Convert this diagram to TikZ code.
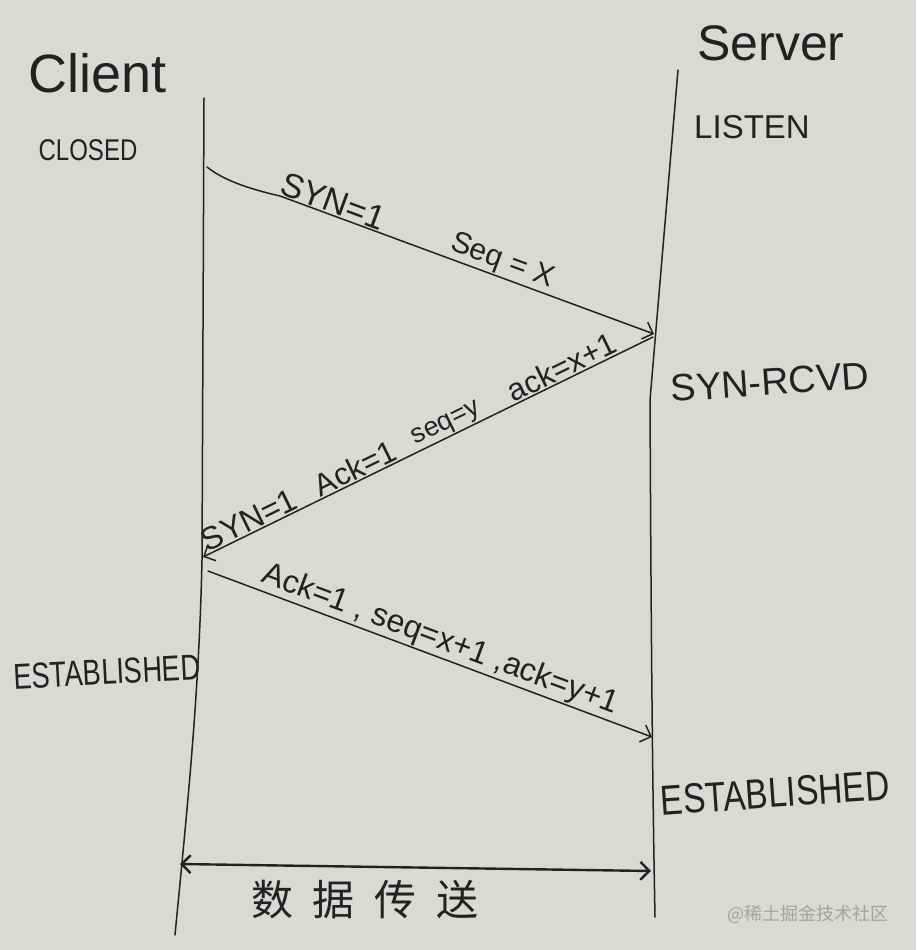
\documentclass[tikz,border=0pt]{standalone}
\usepackage{fontspec}
\setmainfont{Liberation Sans}
\newfontfamily\cjk{Noto Sans CJK SC}
\usetikzlibrary{arrows.meta}
\definecolor{paper}{HTML}{D8DAD6}
\definecolor{ink}{HTML}{222222}
\definecolor{wmark}{HTML}{A2A4A2}
\begin{document}
\begin{tikzpicture}[x=1pt,y=-1pt,
  >={Straight Barb[length=9pt,width=18pt]},
  inkline/.style={draw=ink, line width=1.5pt, line cap=round, line join=round},
  msg/.style={inkline, ->},
  lbl/.style={text=ink, inner sep=1pt},
  fs/.style={font=\fontsize{#1}{#1}\selectfont},
]
\fill[paper] (0,0) rectangle (916,950);
\useasboundingbox (0,0) rectangle (916,950);

% titles and states
\node[lbl, fs=54] (client) at (98,73) {Client};
\node[lbl, fs=50] (server) at (771,43) {Server};
\node[lbl, fs=30] (closed) at (88,150) {\scalebox{0.8}[1]{CLOSED}};
\node[lbl, fs=33] (listen) at (752,127) {LISTEN};
\node[lbl, fs=38, rotate=4] (synrcvd) at (770,382) {SYN-RCVD};
\node[lbl, fs=36, rotate=3] (estl) at (107,672) {\scalebox{0.76}[1]{ESTABLISHED}};
\node[lbl, fs=42, rotate=4] (estr) at (775,793) {\scalebox{0.8}[1]{ESTABLISHED}};

% lifelines
\coordinate (ctop) at (204,98);
\coordinate (cmid) at (202,560);
\coordinate (cbot) at (175,935);
\coordinate (stop) at (678,70);
\coordinate (smid) at (650,400);
\coordinate (sbot) at (655,917);
\draw[inkline] (ctop) -- (cmid) .. controls (199,700) and (186,820) .. (cbot);
\draw[inkline] (stop) -- (smid) .. controls (651,600) and (652,760) .. (sbot);

% message 1
\coordinate (m1s) at (207,167);
\coordinate (m1e) at (654,334);
\draw[msg] (m1s) .. controls (222,179) and (245,188) .. (280,196) -- (m1e)
  node[lbl, fs=34, pos=0.13, sloped, above] {SYN=1}
  node[lbl, fs=30, pos=0.58, sloped, above] {Seq = X};

% message 2
\coordinate (m2s) at (653,337);
\coordinate (m2e) at (203,557);
\draw[msg] (m2s) -- (m2e)
  node[lbl, fs=31, pos=0.19, sloped, above] {ack=x+1}
  node[lbl, fs=27, pos=0.447, sloped, above] {seq=y}
  node[lbl, fs=31, pos=0.649, sloped, above] {Ack=1}
  node[lbl, fs=32, pos=0.885, sloped, above] {SYN=1};

% message 3
\coordinate (m3s) at (208,571);
\coordinate (m3e) at (652,737);
\draw[msg] (m3s) -- (m3e)
  node[lbl, fs=32, pos=0.51, sloped, above] {Ack=1 , seq=x+1 ,ack=y+1};

% data transfer
\coordinate (d1) at (180,864);
\coordinate (d2) at (651,871);
\draw[inkline, line width=2.4pt, <->] (d1) -- (d2);
\node[lbl, font=\cjk\fontsize{42}{42}\selectfont] (data) at (365,900)
  {数\hspace{20pt}据\hspace{20pt}传\hspace{20pt}送};

% watermark
\node[text=wmark, inner sep=0pt, font=\cjk\fontsize{18}{18}\selectfont] (wm) at (808,914) {@稀土掘金技术社区};
\end{tikzpicture}
\end{document}
